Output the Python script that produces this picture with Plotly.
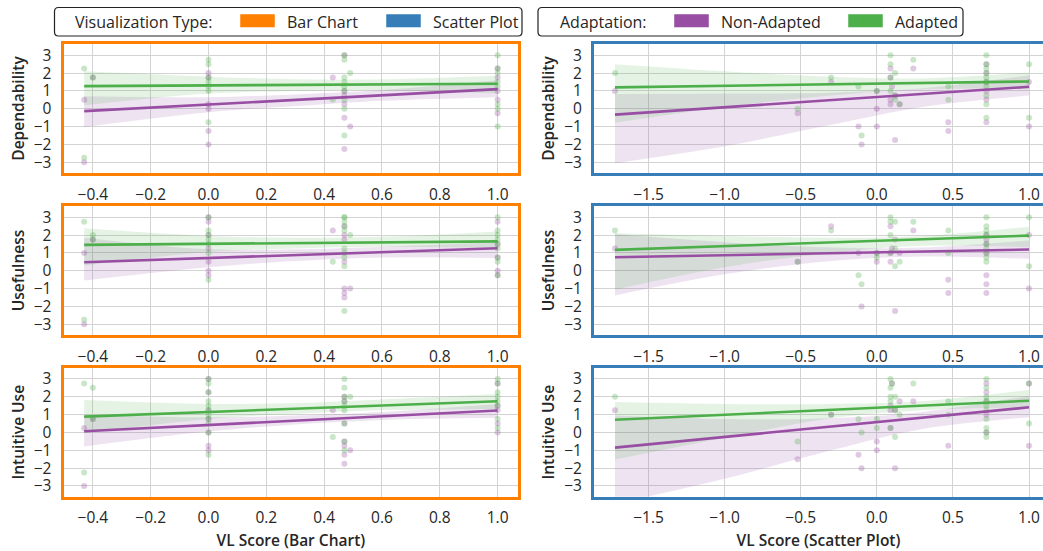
import plotly.graph_objects as go

W, H = 1043, 551

# ---------------- labels ----------------
ROW_LABELS = ["Dependability", "Usefulness", "Intuitive Use"]
X_TITLES = ["VL Score (Bar Chart)", "VL Score (Scatter Plot)"]
VIS_TYPES = ["Bar Chart", "Scatter Plot"]
ADAPT = ["Non-Adapted", "Adapted"]
Y_TICKS = [-3, -2, -1, 0, 1, 2, 3]
BAR_X_TICKS = [-0.4, -0.2, 0.0, 0.2, 0.4, 0.6, 0.8, 1.0]
SCAT_X_TICKS = [-1.5, -1.0, -0.5, 0.0, 0.5, 1.0]

# ---------------- Bar chart: Dependability ----------------
BAR_DEP_A_X = [-0.43, -0.43, -0.40, 0, 0, 0, 0, 0, 0, 0, 0.43, 0.47, 0.47, 0.47, 0.47, 0.47, 0.47, 0.47, 0.47, 0.47, 0.49, 1, 1, 1, 1, 1, 1, 1, 1]
BAR_DEP_A_Y = [2.25, -2.75, 1.75, 2.75, 2.5, 1.75, 1.5, 1.25, 1.0, -0.75, 0.5, 3.0, 2.75, 1.75, 1.5, 1.25, 1.0, 0.5, 0.0, -1.5, 2.0, 3.0, 2.25, 2.0, 1.5, 1.25, 0.25, 0.0, -1.0]
BAR_DEP_N_X = [-0.43, -0.43, -0.40, 0, 0, 0, 0, 0, 0, 0.43, 0.47, 0.47, 0.47, 0.47, 0.47, 0.47, 0.49, 1, 1, 1, 1, 1]
BAR_DEP_N_Y = [0.5, -3.0, 1.75, 2.0, 1.75, 0.25, 0.0, -1.25, -2.0, 1.75, 1.0, 0.75, 0.25, -0.5, -2.25, 3.0, -1.0, 2.25, 1.75, 1.0, 0.5, -0.25]

# ---------------- Bar chart: Usefulness ----------------
BAR_USE_A_X = [-0.43, -0.43, -0.40, -0.40, 0, 0, 0, 0, 0, 0, 0, 0.43, 0.47, 0.47, 0.47, 0.47, 0.47, 0.47, 0.47, 0.47, 0.47, 0.47, 0.49, 1, 1, 1, 1, 1, 1, 1, 1, 1]
BAR_USE_A_Y = [2.75, -2.75, 2.0, 1.75, 3.0, 2.25, 2.0, 1.75, 1.5, 1.0, -0.5, 0.5, 3.0, 3.0, 2.75, 2.5, 2.25, 1.25, 1.0, 0.75, 0.25, -2.25, 2.0, 3.0, 2.25, 2.0, 1.75, 1.5, 1.25, 0.75, 0.5, -0.25]
BAR_USE_N_X = [-0.43, -0.43, -0.40, 0, 0, 0, 0, 0, 0, 0, 0.43, 0.47, 0.47, 0.47, 0.47, 0.47, 0.47, 0.47, 0.49, 1, 1, 1, 1, 1]
BAR_USE_N_Y = [1.0, -3.0, 1.75, 3.0, 2.75, 2.0, 1.25, 0.5, 0.0, -0.25, 2.25, 2.5, 2.0, 1.75, 0.5, -1.0, -1.25, -1.5, -1.0, 2.75, 1.5, 0.75, 0.0, -0.25]

# ---------------- Bar chart: Intuitive Use ----------------
BAR_INT_A_X = [-0.43, -0.43, -0.40, -0.40, 0, 0, 0, 0, 0, 0, 0, 0, 0, 0, 0, 0.43, 0.47, 0.47, 0.47, 0.47, 0.47, 0.47, 0.47, 0.47, 0.47, 0.49, 1, 1, 1, 1, 1, 1, 1, 1]
BAR_INT_A_Y = [2.75, -2.25, 2.5, 0.75, 3.0, 2.75, 2.25, 1.75, 1.5, 1.25, 1.0, 0.75, 0.5, 0.0, -1.25, -0.25, 3.0, 2.5, 2.0, 1.75, 1.5, 1.25, 0.5, -0.5, -1.0, 2.0, 3.0, 2.75, 2.25, 2.0, 1.75, 1.5, 0.75, 0.25]
BAR_INT_N_X = [-0.43, -0.43, -0.40, 0, 0, 0, 0, 0, 0, 0, 0.43, 0.47, 0.47, 0.47, 0.47, 0.47, 0.47, 0.47, 0.49, 1, 1, 1, 1, 1]
BAR_INT_N_Y = [0.25, -3.0, 0.75, 3.0, 2.25, 1.25, 0.75, 0.0, -0.75, -1.0, 1.25, 2.0, 1.75, 0.5, -0.5, -0.75, -1.25, -1.75, -1.0, 2.75, 1.5, 1.25, 0.5, 0.0]

# ---------------- Scatter plot: Dependability ----------------
SCAT_DEP_A_X = [-1.72, -0.52, -0.30, -0.12, -0.10, 0.0, 0.09, 0.09, 0.09, 0.09, 0.12, 0.12, 0.12, 0.15, 0.24, 0.47, 0.47, 0.72, 0.72, 0.72, 0.72, 0.72, 0.72, 0.72, 0.72, 0.72, 0.72, 1.0, 1.0]
SCAT_DEP_A_Y = [2.0, 0.0, 1.75, 1.25, -1.5, 1.0, 3.0, 2.5, 1.75, 1.0, 2.0, 0.75, 0.5, 0.25, 2.75, 1.25, 0.5, 3.0, 2.5, 2.25, 2.0, 1.75, 1.5, 1.25, 0.75, 0.25, -0.5, 2.5, -0.5]
SCAT_DEP_N_X = [-1.72, -0.52, -0.30, -0.12, -0.10, 0.0, 0.0, 0.0, 0.09, 0.09, 0.09, 0.09, 0.10, 0.12, 0.12, 0.15, 0.24, 0.47, 0.47, 0.72, 0.72, 0.72, 0.72, 0.72, 0.72, 1.0, 1.0]
SCAT_DEP_N_Y = [1.0, -0.25, 1.5, -1.0, -2.0, 1.0, 0.0, -1.0, 2.25, 1.75, 0.5, 0.25, 1.25, 0.75, -1.75, 0.25, 2.25, -0.75, -1.25, 2.5, 2.0, 1.5, 1.0, 0.5, -0.75, 1.5, -1.0]

# ---------------- Scatter plot: Usefulness ----------------
SCAT_USE_A_X = [-1.72, -0.52, -0.30, -0.12, -0.10, 0.0, 0.0, 0.09, 0.09, 0.09, 0.09, 0.12, 0.12, 0.12, 0.15, 0.24, 0.47, 0.47, 0.72, 0.72, 0.72, 0.72, 0.72, 0.72, 0.72, 0.72, 0.72, 1.0, 1.0]
SCAT_USE_A_Y = [2.25, 0.5, 2.25, -0.25, -0.75, 1.0, 0.75, 3.0, 2.75, 2.0, 1.0, 2.75, 1.25, 0.25, 0.5, 2.75, 2.25, 1.0, 3.0, 2.5, 2.25, 2.0, 1.5, 1.25, 1.0, 0.75, 0.5, 3.0, 0.25]
SCAT_USE_N_X = [-1.72, -0.52, -0.30, -0.12, -0.10, 0.0, 0.0, 0.09, 0.09, 0.09, 0.10, 0.12, 0.12, 0.15, 0.24, 0.47, 0.47, 0.72, 0.72, 0.72, 0.72, 0.72, 0.72, 0.72, 1.0, 1.0]
SCAT_USE_N_Y = [1.25, 0.5, 2.5, 1.0, -2.0, 0.5, 1.0, 2.5, 1.0, 0.5, 1.25, 1.75, -2.25, 1.0, 2.25, -0.5, -1.25, 2.0, 1.75, 1.5, 1.0, -0.25, -0.75, -1.25, 2.0, -1.0]

# ---------------- Scatter plot: Intuitive Use ----------------
SCAT_INT_A_X = [-1.72, -0.52, -0.30, -0.12, -0.10, 0.0, 0.0, 0.09, 0.09, 0.09, 0.09, 0.09, 0.10, 0.12, 0.12, 0.12, 0.15, 0.24, 0.47, 0.47, 0.72, 0.72, 0.72, 0.72, 0.72, 0.72, 0.72, 0.72, 0.72, 0.72, 1.0, 1.0]
SCAT_INT_A_Y = [2.0, -0.5, 1.0, 0.75, 0.0, 0.75, 0.25, 3.0, 2.5, 2.0, 1.75, 0.25, 2.75, 2.0, 1.25, -0.25, 1.0, 2.75, 1.75, 1.0, 3.0, 2.5, 2.0, 1.75, 1.5, 1.25, 0.75, 0.25, 0.0, -0.25, 2.75, 0.5]
SCAT_INT_N_X = [-1.72, -0.52, -0.30, -0.12, -0.10, 0.0, 0.0, 0.09, 0.09, 0.09, 0.10, 0.12, 0.12, 0.15, 0.24, 0.47, 0.72, 0.72, 0.72, 0.72, 0.72, 1.0, 1.0]
SCAT_INT_N_Y = [1.25, -1.5, 1.0, -1.25, -2.0, -0.5, -1.0, 1.5, 1.25, 0.25, 2.75, 1.25, -2.0, 1.75, 1.75, -0.75, 2.75, 2.25, 1.75, 1.0, 0.0, 2.75, -0.75]

# ---------------- regression fits (value at min x, value at max x) ----------------
BAR_FIT_X = [-0.43, 1.0]
SCAT_FIT_X = [-1.72, 1.0]
BAR_DEP_A_FIT = [1.27, 1.40]
BAR_DEP_N_FIT = [-0.13, 1.10]
BAR_USE_A_FIT = [1.45, 1.65]
BAR_USE_N_FIT = [0.48, 1.26]
BAR_INT_A_FIT = [0.89, 1.75]
BAR_INT_N_FIT = [0.07, 1.23]
SCAT_DEP_A_FIT = [1.20, 1.53]
SCAT_DEP_N_FIT = [-0.33, 1.23]
SCAT_USE_A_FIT = [1.17, 1.97]
SCAT_USE_N_FIT = [0.76, 1.19]
SCAT_INT_A_FIT = [0.71, 1.78]
SCAT_INT_N_FIT = [-0.85, 1.41]

# ---------------- confidence bands (upper / lower at sample x) ----------------
BAR_BAND_X = [-0.43, 0.0, 0.3, 0.6, 1.0]
SCAT_BAND_X = [-1.72, -1.0, -0.3, 0.3, 1.0]
BAR_DEP_A_UP = [2.10, 1.80, 1.65, 1.65, 1.85]
BAR_DEP_A_LO = [0.20, 0.85, 1.00, 1.05, 0.85]
BAR_DEP_N_UP = [0.70, 0.65, 0.80, 1.05, 1.60]
BAR_DEP_N_LO = [-1.03, -0.20, 0.15, 0.45, 0.65]
BAR_USE_A_UP = [2.38, 1.95, 1.85, 1.90, 2.20]
BAR_USE_A_LO = [0.30, 1.05, 1.25, 1.35, 1.28]
BAR_USE_N_UP = [1.85, 1.20, 1.20, 1.35, 1.60]
BAR_USE_N_LO = [-0.54, 0.20, 0.55, 0.75, 0.72]
BAR_INT_A_UP = [1.82, 1.60, 1.65, 1.85, 2.15]
BAR_INT_A_LO = [-0.05, 0.75, 1.05, 1.25, 1.32]
BAR_INT_N_UP = [1.00, 0.85, 0.95, 1.15, 1.60]
BAR_INT_N_LO = [-0.78, 0.05, 0.45, 0.70, 0.82]
SCAT_DEP_A_UP = [2.50, 2.10, 1.80, 1.70, 2.03]
SCAT_DEP_A_LO = [-0.78, 0.10, 0.75, 1.10, 1.10]
SCAT_DEP_N_UP = [0.83, 0.85, 0.90, 1.15, 1.88]
SCAT_DEP_N_LO = [-3.05, -2.10, -0.90, 0.10, 0.74]
SCAT_USE_A_UP = [2.10, 1.95, 1.85, 1.95, 2.47]
SCAT_USE_A_LO = [-1.06, 0.20, 1.00, 1.40, 1.32]
SCAT_USE_N_UP = [2.06, 1.60, 1.30, 1.30, 1.70]
SCAT_USE_N_LO = [-1.38, -0.20, 0.55, 0.80, 0.67]
SCAT_INT_A_UP = [1.71, 1.60, 1.60, 1.75, 2.38]
SCAT_INT_A_LO = [-1.52, -0.30, 0.80, 1.25, 1.41]
SCAT_INT_N_UP = [0.95, 0.75, 0.80, 1.15, 2.06]
SCAT_INT_N_LO = [-4.00, -2.60, -1.00, 0.20, 0.85]

# ---------------- styling ----------------
ORANGE = "#ff7f00"
BLUE = "#377eb8"
PURPLE = "#984ea3"
GREEN = "#4daf4a"
BAND_P = "rgba(152,78,163,0.16)"
BAND_G = "rgba(77,175,74,0.15)"
FONT = "Open Sans"
TXT = "#262626"
TICK_SIZE = 15.5
LEG_SIZE = 16
TITLE_SIZE = 15.5

panels = [
    (0, 0, BAR_DEP_N_X, BAR_DEP_N_Y, BAR_DEP_A_X, BAR_DEP_A_Y, BAR_DEP_N_FIT, BAR_DEP_A_FIT, BAR_DEP_N_UP, BAR_DEP_N_LO, BAR_DEP_A_UP, BAR_DEP_A_LO),
    (1, 0, BAR_USE_N_X, BAR_USE_N_Y, BAR_USE_A_X, BAR_USE_A_Y, BAR_USE_N_FIT, BAR_USE_A_FIT, BAR_USE_N_UP, BAR_USE_N_LO, BAR_USE_A_UP, BAR_USE_A_LO),
    (2, 0, BAR_INT_N_X, BAR_INT_N_Y, BAR_INT_A_X, BAR_INT_A_Y, BAR_INT_N_FIT, BAR_INT_A_FIT, BAR_INT_N_UP, BAR_INT_N_LO, BAR_INT_A_UP, BAR_INT_A_LO),
    (0, 1, SCAT_DEP_N_X, SCAT_DEP_N_Y, SCAT_DEP_A_X, SCAT_DEP_A_Y, SCAT_DEP_N_FIT, SCAT_DEP_A_FIT, SCAT_DEP_N_UP, SCAT_DEP_N_LO, SCAT_DEP_A_UP, SCAT_DEP_A_LO),
    (1, 1, SCAT_USE_N_X, SCAT_USE_N_Y, SCAT_USE_A_X, SCAT_USE_A_Y, SCAT_USE_N_FIT, SCAT_USE_A_FIT, SCAT_USE_N_UP, SCAT_USE_N_LO, SCAT_USE_A_UP, SCAT_USE_A_LO),
    (2, 1, SCAT_INT_N_X, SCAT_INT_N_Y, SCAT_INT_A_X, SCAT_INT_A_Y, SCAT_INT_N_FIT, SCAT_INT_A_FIT, SCAT_INT_N_UP, SCAT_INT_N_LO, SCAT_INT_A_UP, SCAT_INT_A_LO),
]

X_DOMAINS = [[63.5 / W, 518.3 / W], [594.0 / W, 1.0]]
ROW_PX = [(44.0, 173.0), (206.0, 335.0), (367.7, 496.7)]
Y_DOMAINS = [[1 - b / H, 1 - t / H] for (t, b) in ROW_PX]
X_RANGES = [[-0.5015, 1.0715], [-1.858, 1.092]]
Y_RANGE = [-3.6, 3.63]

fig = go.Figure()
layout_axes = {}


def fmt_tick(v):
    return ("−" if v < 0 else "") + f"{abs(v):.1f}"


for idx, (r, c, nx, ny, ax_, ay, nfit, afit, nup, nlo, aup, alo) in enumerate(panels):
    k = idx + 1
    xa = "x" if k == 1 else f"x{k}"
    ya = "y" if k == 1 else f"y{k}"
    bx = BAR_BAND_X if c == 0 else SCAT_BAND_X
    fx = BAR_FIT_X if c == 0 else SCAT_FIT_X
    common = dict(xaxis=xa, yaxis=ya, showlegend=False, hoverinfo="skip")
    for up, lo, col in ((nup, nlo, BAND_P), (aup, alo, BAND_G)):
        fig.add_trace(go.Scatter(x=bx, y=lo, mode="lines", line=dict(width=0, shape="spline", smoothing=1.0), **common))
        fig.add_trace(go.Scatter(x=bx, y=up, mode="lines", line=dict(width=0, shape="spline", smoothing=1.0),
                                 fill="tonexty", fillcolor=col, **common))
    for px_, py_, col in ((nx, ny, PURPLE), (ax_, ay, GREEN)):
        fig.add_trace(go.Scatter(x=px_, y=py_, mode="markers",
                                 marker=dict(size=6, color=col, opacity=0.3, line=dict(width=0)), **common))
    for fit, col in ((nfit, PURPLE), (afit, GREEN)):
        fig.add_trace(go.Scatter(x=fx, y=fit, mode="lines", line=dict(color=col, width=2.6), **common))

    edge = ORANGE if c == 0 else BLUE
    xticks = BAR_X_TICKS if c == 0 else SCAT_X_TICKS
    xkey = "xaxis" if k == 1 else f"xaxis{k}"
    ykey = "yaxis" if k == 1 else f"yaxis{k}"
    layout_axes[xkey] = dict(
        domain=X_DOMAINS[c], range=X_RANGES[c], anchor=ya,
        tickmode="array", tickvals=xticks, ticktext=[fmt_tick(v) for v in xticks],
        showgrid=True, gridcolor="#d3d3d3", gridwidth=1, zeroline=False,
        showline=True, linecolor=edge, linewidth=3, mirror=True,
        ticks="outside", ticklen=5, tickcolor="rgba(0,0,0,0)",
        tickfont=dict(family=FONT, size=TICK_SIZE, color=TXT),
        title=dict(text=X_TITLES[c] if r == 2 else "",
                   font=dict(family=FONT, size=TITLE_SIZE, color=TXT, weight=600), standoff=10),
    )
    layout_axes[ykey] = dict(
        domain=Y_DOMAINS[r], range=Y_RANGE, anchor=xa,
        tickmode="array", tickvals=Y_TICKS,
        showgrid=True, gridcolor="#d3d3d3", gridwidth=1, zeroline=False,
        showline=True, linecolor=edge, linewidth=3, mirror=(c == 0),
        ticks="outside", ticklen=6, tickcolor="rgba(0,0,0,0)",
        tickfont=dict(family=FONT, size=TICK_SIZE, color=TXT),
        title=dict(text=ROW_LABELS[r], font=dict(family=FONT, size=TITLE_SIZE, color=TXT, weight=600), standoff=6),
    )

fig.update_layout(**layout_axes)


def px2x(v):
    return v / W


def px2y(v):
    return 1 - v / H


def rounded_box(x0, y0, x1, y1, rad=4):
    rx, ry = rad / W, rad / H
    X0, X1 = px2x(x0), px2x(x1)
    Yt, Yb = px2y(y0), px2y(y1)
    return (f"M {X0+rx},{Yt} L {X1-rx},{Yt} Q {X1},{Yt} {X1},{Yt-ry} "
            f"L {X1},{Yb+ry} Q {X1},{Yb} {X1-rx},{Yb} L {X0+rx},{Yb} "
            f"Q {X0},{Yb} {X0},{Yb+ry} L {X0},{Yt-ry} Q {X0},{Yt} {X0+rx},{Yt} Z")


shapes = []
annotations = []
for (bx0, bx1) in ((54.5, 522), (538, 963)):
    shapes.append(dict(type="path", xref="paper", yref="paper", path=rounded_box(bx0, 7.5, bx1, 36),
                       line=dict(color="#222222", width=1.2), fillcolor="white", layer="above"))

legend_items = [
    (73, "Visualization Type:", None),
    (240, VIS_TYPES[0], ORANGE),
    (386, VIS_TYPES[1], BLUE),
    (558, "Adaptation:", None),
    (674, ADAPT[0], PURPLE),
    (848, ADAPT[1], GREEN),
]
for x0, label, col in legend_items:
    if col is None:
        annotations.append(dict(x=px2x(x0), y=px2y(21.5), xref="paper", yref="paper", text=label,
                                showarrow=False, xanchor="left", yanchor="middle",
                                font=dict(family=FONT, size=LEG_SIZE, color=TXT)))
    else:
        shapes.append(dict(type="rect", xref="paper", yref="paper",
                           x0=px2x(x0), x1=px2x(x0 + 35), y0=px2y(27.5), y1=px2y(14),
                           fillcolor=col, line=dict(width=0.8, color="rgba(255,255,255,0.6)"), layer="above"))
        annotations.append(dict(x=px2x(x0 + 45), y=px2y(21.5), xref="paper", yref="paper", text=label,
                                showarrow=False, xanchor="left", yanchor="middle",
                                font=dict(family=FONT, size=LEG_SIZE, color=TXT)))

fig.update_layout(
    width=W, height=H,
    margin=dict(l=0, r=0, t=0, b=0),
    paper_bgcolor="white", plot_bgcolor="white",
    font=dict(family=FONT, size=15, color=TXT),
    shapes=shapes, annotations=annotations,
    showlegend=False,
)

fig.write_html("out.html", config={"displayModeBar": False},
               post_script="document.body.style.margin='0';document.body.style.padding='0';")
